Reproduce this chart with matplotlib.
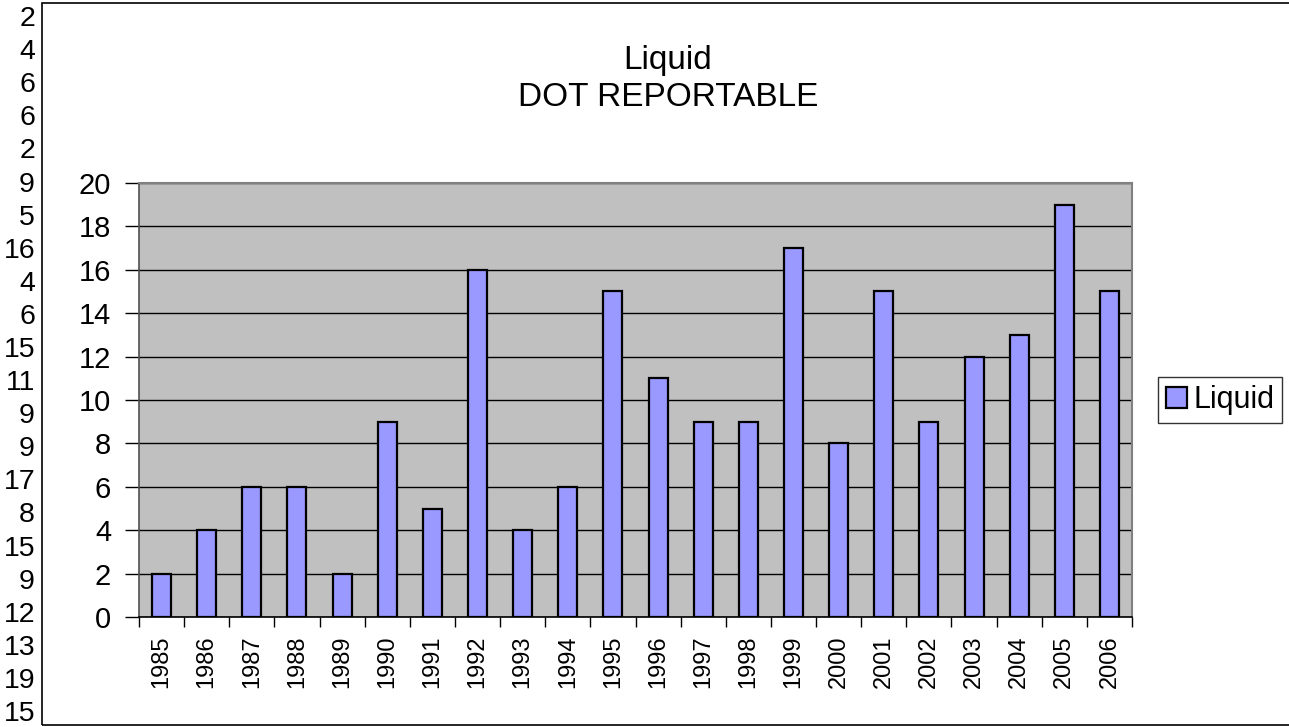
import matplotlib
matplotlib.use("Agg")
import matplotlib.pyplot as plt
from matplotlib.patches import Rectangle
import numpy as np

plt.rcParams['font.family'] = ['Liberation Sans', 'DejaVu Sans']

years = ['1985', '1986', '1987', '1988', '1989', '1990', '1991', '1992', '1993', '1994',
         '1995', '1996', '1997', '1998', '1999', '2000', '2001', '2002', '2003', '2004',
         '2005', '2006']
liquid = [2, 4, 6, 6, 2, 9, 5, 16, 4, 6, 15, 11, 9, 9, 17, 8, 15, 9, 12, 13, 19, 15]
yticks = [0, 2, 4, 6, 8, 10, 12, 14, 16, 18, 20]

W, H = 1289, 727
fig = plt.figure(figsize=(W / 100, H / 100), dpi=100)

# outer chart frame
fig.patches.append(Rectangle((42 / W, 1 - 725 / H), (W + 10 - 42) / W, (725 - 3) / H,
                             transform=fig.transFigure, fill=False, edgecolor='black',
                             linewidth=1.2, clip_on=False))

# stray data column on the left
for i, v in enumerate(liquid):
    fig.text(35 / W, 1 - (19 + i * 33.1) / H, str(v), ha='right', va='center', fontsize=20.5)

ax = fig.add_axes([139 / W, 1 - 617 / H, (1132 - 139) / W, (617 - 183) / H])
ax.set_facecolor('#C0C0C0')
x = np.arange(len(years))
ax.bar(x, liquid, width=0.42, color='#9999FF', edgecolor='black', linewidth=1.6,
       label='Liquid', zorder=3)
ax.set_xlim(-0.5, len(years) - 0.5)
ax.set_ylim(0, 20)
ax.set_yticks(yticks)
ax.set_yticklabels([str(t) for t in yticks], fontsize=21)
ax.yaxis.grid(True, color='black', linewidth=1.0, zorder=1)
ax.set_axisbelow(True)
ax.tick_params(axis='y', direction='out', length=10, width=1, color='black', pad=10)

ax.set_xticks(x)
ax.set_xticklabels(years, rotation=90, fontsize=17)
ax.tick_params(axis='x', which='major', length=0, pad=13)
ax.set_xticks(np.arange(-0.5, len(years)), minor=True)
ax.tick_params(axis='x', which='minor', direction='out', length=7, width=1, color='black')

for s in ['top', 'right']:
    ax.spines[s].set_color('#808080')
    ax.spines[s].set_linewidth(1.5)
ax.spines['left'].set_color('#505050')
ax.spines['left'].set_linewidth(1.2)
ax.spines['bottom'].set_color('black')
ax.spines['bottom'].set_linewidth(1.2)

fig.text(668 / W, 1 - 60 / H, 'Liquid', ha='center', va='center', fontsize=24)
fig.text(668 / W, 1 - 97 / H, 'DOT REPORTABLE', ha='center', va='center', fontsize=24)

leg = fig.legend(loc='center', bbox_to_anchor=(1220 / W, 1 - 400 / H), fontsize=22,
                 frameon=True, fancybox=False, edgecolor='black', handlelength=0.7,
                 handleheight=0.7, handletextpad=0.2, borderpad=0.25, borderaxespad=0)
leg.get_frame().set_linewidth(1.0)

fig.savefig('out.png', dpi=100)
